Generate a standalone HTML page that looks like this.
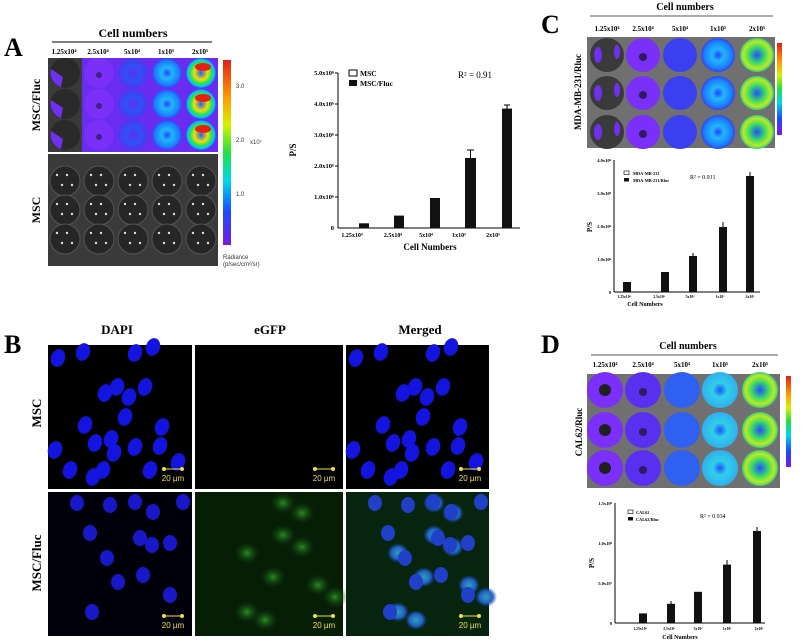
<!DOCTYPE html>
<html><head><meta charset="utf-8"><style>
html,body{margin:0;padding:0;background:#fff;}
svg{display:block;font-family:"Liberation Serif",serif;}
.b{font-weight:bold;}
</style></head><body>
<svg id="s" width="809" height="641" viewBox="0 0 809 641" xmlns="http://www.w3.org/2000/svg">
<defs>
<linearGradient id="cb" x1="0" y1="0" x2="0" y2="1">
<stop offset="0" stop-color="#e0201a"/><stop offset="0.2" stop-color="#ff9a00"/><stop offset="0.35" stop-color="#d8f000"/><stop offset="0.5" stop-color="#20e040"/><stop offset="0.65" stop-color="#00d8e8"/><stop offset="0.82" stop-color="#1a4cff"/><stop offset="1" stop-color="#7a1ae0"/>
</linearGradient>
<radialGradient id="g5"><stop offset="0" stop-color="#2060ff"/><stop offset="0.45" stop-color="#f0e000"/><stop offset="0.7" stop-color="#30e050"/><stop offset="0.9" stop-color="#00c8f0"/><stop offset="1" stop-color="#3050ff"/></radialGradient>
<radialGradient id="g4"><stop offset="0" stop-color="#2a40ff"/><stop offset="0.35" stop-color="#20b8ff"/><stop offset="0.8" stop-color="#1a80ff"/><stop offset="1" stop-color="#3a40f0"/></radialGradient>
<radialGradient id="g3"><stop offset="0" stop-color="#5a30f0"/><stop offset="0.5" stop-color="#3050f8"/><stop offset="1" stop-color="#4a38f0"/></radialGradient>
<radialGradient id="gD5"><stop offset="0" stop-color="#2050ff"/><stop offset="0.5" stop-color="#40e060"/><stop offset="0.8" stop-color="#c0e820"/><stop offset="1" stop-color="#30d080"/></radialGradient>
<radialGradient id="gD4"><stop offset="0" stop-color="#2050ff"/><stop offset="0.4" stop-color="#30d0e8"/><stop offset="1" stop-color="#30b0f0"/></radialGradient>
<radialGradient id="gg"><stop offset="0" stop-color="#2a8a24"/><stop offset="1" stop-color="#0f3a0c" stop-opacity="0"/></radialGradient>
<radialGradient id="gm"><stop offset="0" stop-color="#30a0b0"/><stop offset="0.6" stop-color="#2060c8"/><stop offset="1" stop-color="#1a40a0" stop-opacity="0"/></radialGradient>
</defs>

<!-- Panel A -->
<text x="4" y="56" font-size="26" class="b">A</text>
<text x="133" y="37" font-size="12" class="b" text-anchor="middle">Cell numbers</text>
<line x1="52" y1="42" x2="212" y2="42" stroke="#333" stroke-width="1.2"/>
<g font-size="7" class="b" text-anchor="middle">
<text x="64" y="54">1.25x10⁴</text><text x="98" y="54">2.5x10⁴</text><text x="132" y="54">5x10⁴</text><text x="166" y="54">1x10⁵</text><text x="200" y="54">2x10⁵</text></g>
<rect x="48" y="58" width="170" height="94" fill="#6a2cf0"/>
<rect x="48" y="58" width="34" height="94" fill="#3a3a3a"/>
<rect x="48" y="154" width="170" height="112" fill="#3a3a3a"/>
<g id="wA"></g>
<text x="0" y="0" font-size="12" class="b" transform="translate(40,105) rotate(-90)" text-anchor="middle">MSC/Fluc</text>
<text x="0" y="0" font-size="12" class="b" transform="translate(40,210) rotate(-90)" text-anchor="middle">MSC</text>
<rect x="223" y="60" width="8" height="185" fill="url(#cb)"/>
<g font-size="6" fill="#333" font-family="Liberation Sans,sans-serif"><text x="236" y="88">3.0</text><text x="236" y="142">2.0</text><text x="236" y="196">1.0</text><text x="250" y="144">x10⁷</text><text x="223" y="259">Radiance</text><text x="223" y="266">(p/sec/cm²/sr)</text></g>

<!-- Chart A -->
<g font-size="6.5" class="b" text-anchor="end">
<text x="334" y="75">5.0x10⁶</text><text x="334" y="106">4.0x10⁶</text><text x="334" y="137">3.0x10⁶</text><text x="334" y="168">2.0x10⁶</text><text x="334" y="199">1.0x10⁶</text><text x="334" y="230">0</text></g>
<line x1="338" y1="73" x2="338" y2="228" stroke="#000"/>
<line x1="338" y1="228" x2="520" y2="228" stroke="#000"/>
<g stroke="#000"><line x1="335" y1="73" x2="338" y2="73"/><line x1="335" y1="104" x2="338" y2="104"/><line x1="335" y1="135" x2="338" y2="135"/><line x1="335" y1="166" x2="338" y2="166"/><line x1="335" y1="197" x2="338" y2="197"/></g>
<g fill="#111">
<rect x="359" y="223.3" width="10" height="4.7"/><rect x="394" y="215.6" width="10" height="12.4"/><rect x="430" y="198" width="10" height="30"/><rect x="465" y="158" width="11" height="70"/><rect x="502" y="108.6" width="10" height="119.4"/></g>
<g stroke="#000"><line x1="470.5" y1="150" x2="470.5" y2="158"/><line x1="467" y1="150" x2="474" y2="150"/><line x1="507" y1="105" x2="507" y2="109"/><line x1="504" y1="105" x2="510" y2="105"/></g>
<g font-size="6" class="b" text-anchor="middle"><text x="352" y="237">1.25x10⁴</text><text x="393" y="237">2.5x10⁴</text><text x="426" y="237">5x10⁴</text><text x="459" y="237">1x10⁵</text><text x="493" y="237">2x10⁵</text></g>
<text x="430" y="250" font-size="9" class="b" text-anchor="middle">Cell Numbers</text>
<text transform="translate(296,150) rotate(-90)" font-size="9" class="b" text-anchor="middle">P/S</text>
<rect x="349" y="70" width="8" height="6" fill="#fff" stroke="#000"/><rect x="349" y="80" width="8" height="6" fill="#111"/>
<g font-size="7.5" class="b"><text x="360" y="76">MSC</text><text x="360" y="86">MSC/Fluc</text></g>
<text x="458" y="78" font-size="9">R² = 0.91</text>

<!-- Panel B -->
<text x="4" y="353" font-size="26" class="b">B</text>
<g font-size="13" class="b" text-anchor="middle"><text x="117" y="334">DAPI</text><text x="270" y="334">eGFP</text><text x="420" y="334">Merged</text></g>
<text transform="translate(41,413) rotate(-90)" font-size="13" class="b" text-anchor="middle">MSC</text>
<text transform="translate(41,563) rotate(-90)" font-size="13" class="b" text-anchor="middle">MSC/Fluc</text>
<rect x="48" y="345" width="144" height="144" fill="#000"/>
<rect x="195" y="345" width="148" height="144" fill="#000"/>
<rect x="346" y="345" width="143" height="144" fill="#000"/>
<rect x="48" y="492" width="144" height="144" fill="#00000a"/>
<rect x="195" y="492" width="148" height="144" fill="#061e06"/>
<rect x="346" y="492" width="143" height="144" fill="#06240e"/>
<g id="cells"></g>
<g id="sb"></g>

<!-- Panel C -->
<text x="541" y="33" font-size="26" class="b">C</text>
<text x="685" y="10" font-size="10" class="b" text-anchor="middle">Cell numbers</text>
<line x1="590" y1="16" x2="773" y2="16" stroke="#555"/>
<g font-size="7" class="b" text-anchor="middle"><text x="607" y="31">1.25x10⁴</text><text x="643" y="31">2.5x10⁴</text><text x="680" y="31">5x10⁴</text><text x="718" y="31">1x10⁵</text><text x="757" y="31">2x10⁵</text></g>
<rect x="587" y="37" width="188" height="111" fill="#707070"/>
<g id="wC"></g>
<rect x="777" y="43" width="5" height="92" fill="url(#cb)"/>
<text transform="translate(581,92) rotate(-90)" font-size="9" class="b" text-anchor="middle">MDA-MB-231/Rluc</text>
<g font-size="4.5" class="b" text-anchor="end"><text x="611" y="162">4.0x10⁸</text><text x="611" y="195">3.0x10⁸</text><text x="611" y="228">2.0x10⁸</text><text x="611" y="261">1.0x10⁸</text><text x="611" y="294">0</text></g>
<line x1="614" y1="160" x2="614" y2="292" stroke="#000"/><line x1="614" y1="292" x2="760" y2="292" stroke="#000"/>
<g fill="#111"><rect x="623" y="282" width="8" height="10"/><rect x="661" y="272" width="8" height="20"/><rect x="689" y="256" width="8" height="36"/><rect x="719" y="227" width="8" height="65"/><rect x="746" y="176" width="8" height="116"/></g>
<g stroke="#000"><line x1="723" y1="222" x2="723" y2="227"/><line x1="750" y1="172" x2="750" y2="176"/><line x1="693" y1="253" x2="693" y2="256"/></g>
<g font-size="3.8" class="b" text-anchor="middle"><text x="624" y="298">1.25x10⁴</text><text x="659" y="298">2.5x10⁴</text><text x="690" y="298">5x10⁴</text><text x="720" y="298">1x10⁵</text><text x="750" y="298">2x10⁵</text></g>
<text x="645" y="306" font-size="6" class="b" text-anchor="middle">Cell Numbers</text>
<text transform="translate(592,227) rotate(-90)" font-size="7" class="b" text-anchor="middle">P/S</text>
<rect x="624" y="171" width="5" height="3.5" fill="#fff" stroke="#000" stroke-width="0.6"/><rect x="624" y="178" width="5" height="3.5" fill="#111"/>
<g font-size="4.3" class="b"><text x="633" y="175">MDA-MB-231</text><text x="633" y="182">MDA-MB-231/Rluc</text></g>
<text x="690" y="179" font-size="6">R² = 0.911</text>

<!-- Panel D -->
<text x="541" y="353" font-size="26" class="b">D</text>
<text x="688" y="349" font-size="10" class="b" text-anchor="middle">Cell numbers</text>
<line x1="591" y1="355" x2="778" y2="355" stroke="#555"/>
<g font-size="7" class="b" text-anchor="middle"><text x="605" y="367">1.25x10⁴</text><text x="643" y="367">2.5x10⁴</text><text x="682" y="367">5x10⁴</text><text x="720" y="367">1x10⁵</text><text x="760" y="367">2x10⁵</text></g>
<rect x="587" y="374" width="193" height="114" fill="#707070"/>
<g id="wD"></g>
<rect x="786" y="376" width="5" height="91" fill="url(#cb)"/>
<text transform="translate(582,432) rotate(-90)" font-size="9" class="b" text-anchor="middle">CAL62/Rluc</text>
<g font-size="4.5" class="b" text-anchor="end"><text x="612" y="505">1.5x10⁸</text><text x="612" y="545">1.0x10⁸</text><text x="612" y="585">5.0x10⁷</text><text x="612" y="625">0</text></g>
<line x1="615" y1="503" x2="615" y2="623" stroke="#000"/><line x1="615" y1="623" x2="765" y2="623" stroke="#000"/>
<g fill="#111"><rect x="639" y="613.4" width="8" height="9.6"/><rect x="667" y="603.8" width="8" height="19.2"/><rect x="694" y="591.8" width="8" height="31.2"/><rect x="723" y="564.6" width="8" height="58.4"/><rect x="753" y="531" width="8" height="92"/></g>
<g stroke="#000"><line x1="727" y1="560" x2="727" y2="565"/><line x1="757" y1="527" x2="757" y2="531"/><line x1="671" y1="601" x2="671" y2="604"/></g>
<g font-size="3.8" class="b" text-anchor="middle"><text x="640" y="630">1.25x10⁴</text><text x="669" y="630">2.5x10⁴</text><text x="698" y="630">5x10⁴</text><text x="727" y="630">1x10⁵</text><text x="759" y="630">2x10⁵</text></g>
<text x="680" y="639" font-size="6" class="b" text-anchor="middle">Cell Numbers</text>
<text transform="translate(594,563) rotate(-90)" font-size="7" class="b" text-anchor="middle">P/S</text>
<rect x="628" y="510" width="5" height="3.5" fill="#fff" stroke="#000" stroke-width="0.6"/><rect x="628" y="517" width="5" height="3.5" fill="#111"/>
<g font-size="4.3" class="b"><text x="636" y="514">CAL62</text><text x="636" y="521">CAL62/Rluc</text></g>
<text x="700" y="518" font-size="6">R² = 0.934</text>
</svg>
<script>
var NS="http://www.w3.org/2000/svg";
function el(p,t,a){var e=document.createElementNS(NS,t);for(var k in a)e.setAttribute(k,a[k]);p.appendChild(e);return e;}
var wA=document.getElementById('wA');
var xs=[65,99,133,167,201],ys=[73,104,135];
ys.forEach(function(y){xs.forEach(function(x,i){
 if(i==0){el(wA,'circle',{cx:x,cy:y,r:15,fill:'#2a2a2a'});el(wA,'path',{d:'M'+(x-14)+' '+(y-4)+' a15 15 0 0 0 10 18 l2 -10z',fill:'#7030f0'});}
 else if(i==1){el(wA,'circle',{cx:x,cy:y,r:15,fill:'#7a30f8'});el(wA,'circle',{cx:x,cy:y+2,r:3,fill:'#402080'});}
 else if(i==2){el(wA,'circle',{cx:x,cy:y,r:15,fill:'url(#g3)'});}
 else if(i==3){el(wA,'circle',{cx:x,cy:y,r:15,fill:'url(#g4)'});}
 else {el(wA,'circle',{cx:x,cy:y,r:15,fill:'url(#g5)'});el(wA,'ellipse',{cx:x+2,cy:y-6,rx:8,ry:4,fill:'#e82010'});}
});});
[181,210,239].forEach(function(y){xs.forEach(function(x){el(wA,'circle',{cx:x,cy:y,r:15,fill:'#262626',stroke:'#555','stroke-width':1});
 for(var k=0;k<4;k++)el(wA,'circle',{cx:x-8+k*5,cy:y-6+(k%2)*10,r:1.2,fill:'#ddd'});});});
function plate(id,xs,ys,r,cols,first){var g=document.getElementById(id);
 ys.forEach(function(y){xs.forEach(function(x,i){
  var c=cols[i];el(g,'circle',{cx:x,cy:y,r:r,fill:c});
  if(i==0){ if(first=='dark'){el(g,'circle',{cx:x,cy:y,r:r-4,fill:'#3a3a3a'});el(g,'ellipse',{cx:x-9,cy:y,rx:4,ry:8,fill:'#7030f0'});el(g,'ellipse',{cx:x+10,cy:y-3,rx:3,ry:7,fill:'#7030f0'});}
    else {el(g,'circle',{cx:x,cy:y,r:6,fill:'#202020'});}}
  if(i==1)el(g,'circle',{cx:x,cy:y+2,r:4,fill:'#301a60'});
 });});}
plate('wC',[607,643,680,718,757],[55,93,132],17,['#3a3a3a','#7a30f8','#3a40f0','url(#g4)','url(#gD5)'],'dark');
plate('wD',[605,643,682,720,760],[390,430,468],18,['#7a30f8','#5a30f0','#3060f0','url(#gD4)','url(#gD5)'],'purple');
var cg=document.getElementById('cells');
var n1=[[58,358],[83,352],[135,353],[153,347],[105,393],[117,387],[129,397],[145,387],[125,417],[85,425],[162,427],[55,450],[95,443],[111,439],[135,447],[160,446],[114,453],[103,470],[93,477],[178,462],[70,470],[150,470]];
n1.forEach(function(p){el(cg,'ellipse',{cx:p[0],cy:p[1],rx:7,ry:9,fill:'#1414e0',transform:'rotate(20 '+p[0]+' '+p[1]+')'});
 el(cg,'ellipse',{cx:p[0]+298,cy:p[1],rx:7,ry:9,fill:'#1414e0',transform:'rotate(20 '+(p[0]+298)+' '+p[1]+')'});});
var gr=[[283,503],[302,513],[283,535],[302,547],[247,553],[273,577],[318,585],[335,597],[247,612],[265,620]];
gr.forEach(function(p){el(cg,'ellipse',{cx:p[0],cy:p[1],rx:13,ry:11,fill:'url(#gg)'});el(cg,'ellipse',{cx:p[0]+151,cy:p[1],rx:11,ry:10,fill:'url(#gm)'});});
var n2=[[77,503],[110,505],[135,502],[153,512],[183,502],[90,533],[140,538],[152,545],[170,543],[107,558],[143,575],[118,582],[170,595],[92,612]];
n2.forEach(function(p){el(cg,'ellipse',{cx:p[0],cy:p[1],rx:7,ry:8,fill:'#1818c8'});el(cg,'ellipse',{cx:p[0]+298,cy:p[1],rx:7,ry:8,fill:'#2040c8'});});
var sb=document.getElementById('sb');
[[192,489],[343,489],[489,489],[192,636],[343,636],[489,636]].forEach(function(p){
 var x2=p[0]-10,x1=x2-18,y=p[1]-20;
 el(sb,'line',{x1:x1,y1:y,x2:x2,y2:y,stroke:'#f0e040','stroke-width':1});
 el(sb,'circle',{cx:x1,cy:y,r:2,fill:'#f0e040'});el(sb,'circle',{cx:x2,cy:y,r:2,fill:'#f0e040'});
 var t=el(sb,'text',{x:(x1+x2)/2,y:y+12,'font-size':8,fill:'#f0e040','text-anchor':'middle','font-family':'Liberation Sans,sans-serif'});t.textContent='20 µm';
});
</script>
</body></html>
